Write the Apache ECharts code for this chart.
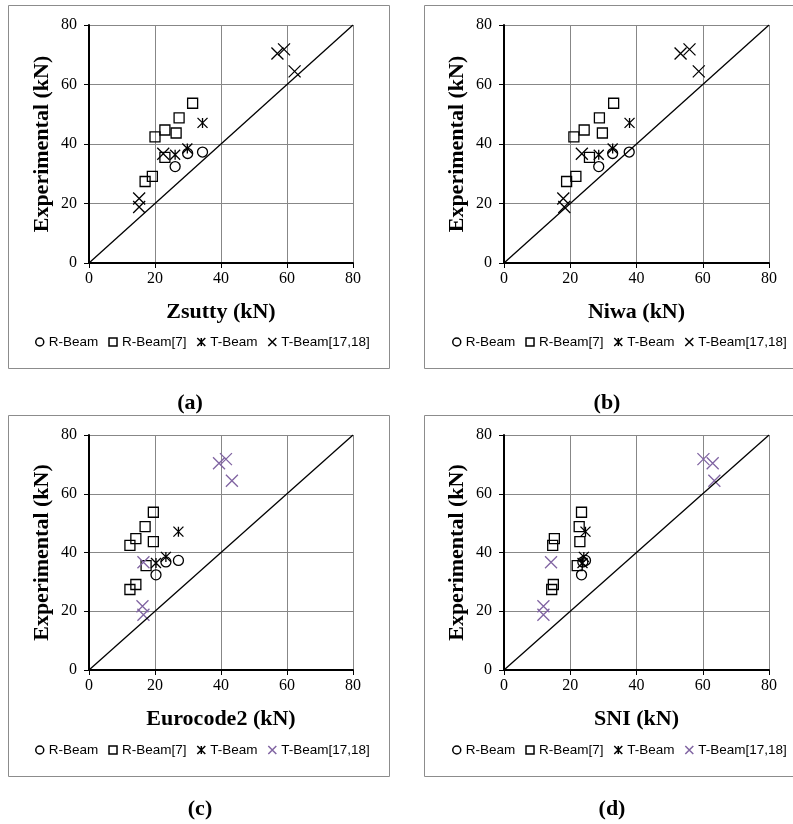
<!DOCTYPE html>
<html>
<head>
<meta charset="utf-8">
<script src="https://cdn.jsdelivr.net/npm/echarts@6/dist/echarts.min.js"></script>
<style>
  html, body { margin: 0; padding: 0; background: #fff; }
  #chart { width: 793px; height: 824px; }
</style>
</head>
<body>
<div id="chart"></div>
<script>
const seriesNames = ['R-Beam', 'R-Beam[7]', 'T-Beam', 'T-Beam[17,18]'];
const xTitles = ['Zsutty (kN)', 'Niwa (kN)', 'Eurocode2 (kN)', 'SNI (kN)'];
const panelLabels = ['(a)', '(b)', '(c)', '(d)'];
const diagonal = [[0, 0], [80, 80]];

// experimental capacity (kN), shared by all panels
const expRBeam = [32.4, 36.8, 37.3];
const expRBeam7 = [27.4, 29.1, 42.4, 44.7, 43.7, 48.8, 53.7, 35.5];
const expTBeam = [36.4, 38.5, 47.1];
const expTBeam1718 = [70.4, 71.8, 64.4, 36.7, 21.7, 18.8];

// predicted capacity (kN) per method
const zsuttyRBeam = [26.1, 29.9, 34.4];
const zsuttyRBeam7 = [17.0, 19.2, 20.0, 23.0, 26.4, 27.3, 31.4, 23.0];
const zsuttyTBeam = [26.1, 29.8, 34.4];
const zsuttyTBeam1718 = [57.1, 59.1, 62.3, 22.5, 15.2, 15.2];

const niwaRBeam = [28.6, 32.8, 37.8];
const niwaRBeam7 = [18.9, 21.7, 21.1, 24.2, 29.7, 28.8, 33.1, 25.8];
const niwaTBeam = [28.6, 32.8, 37.9];
const niwaTBeam1718 = [53.3, 56.0, 58.8, 23.5, 17.9, 18.2];

const ec2RBeam = [20.3, 23.3, 27.1];
const ec2RBeam7 = [12.4, 14.2, 12.4, 14.2, 19.5, 17.0, 19.5, 17.3];
const ec2TBeam = [20.3, 23.3, 27.1];
const ec2TBeam1718 = [39.4, 41.5, 43.3, 16.5, 16.2, 16.5];

const sniRBeam = [23.4, 23.8, 24.6];
const sniRBeam7 = [14.4, 14.9, 14.7, 15.2, 22.9, 22.7, 23.4, 22.1];
const sniTBeam = [23.7, 24.1, 24.6];
const sniTBeam1718 = [63.0, 60.2, 63.5, 14.2, 11.9, 11.9];

const predicted = [
  [zsuttyRBeam, zsuttyRBeam7, zsuttyTBeam, zsuttyTBeam1718],
  [niwaRBeam, niwaRBeam7, niwaTBeam, niwaTBeam1718],
  [ec2RBeam, ec2RBeam7, ec2TBeam, ec2TBeam1718],
  [sniRBeam, sniRBeam7, sniTBeam, sniTBeam1718]
];
const experimental = [expRBeam, expRBeam7, expTBeam, expTBeam1718];

const serif = 'Liberation Serif, Times New Roman, serif';
const sans = 'Liberation Sans, Arial, sans-serif';
const purple = '#8064a2';
const starPath = 'path://M0,0L10,10M10,0L0,10M5,0L5,10';
const crossPath = 'path://M0,0L10,10M10,0L0,10';
const symbols = ['circle', 'rect', starPath, crossPath];
const symbolSizes = [10, 10, 10, 12];

const grids = [
  {left: 89, top: 25, width: 264, height: 238},
  {left: 504, top: 25, width: 265, height: 238},
  {left: 89, top: 435, width: 264, height: 235},
  {left: 504, top: 435, width: 265, height: 235}
];
// panel boxes and sub-figure labels
const boxes = [[8, 5, 381, 363], [424, 5, 381, 363], [8, 415, 381, 361], [424, 415, 381, 361]];
const labelPos = [[190, 403], [607, 403], [200, 809], [612, 809]];
const legendPos = [[35, 335], [452, 335], [35, 743], [452, 743]];

function markColor(panel, s) {
  return (s === 3 && panel >= 2) ? purple : '#000';
}

function axisCommon(i) {
  return {
    type: 'value',
    gridIndex: i,
    min: 0,
    max: 80,
    interval: 20,
    nameLocation: 'middle',
    nameTextStyle: {fontFamily: serif, fontWeight: 'bold', fontSize: 22, color: '#000'},
    axisLine: {show: true, onZero: false, lineStyle: {color: '#000', width: 2}},
    axisTick: {show: true, length: 5, lineStyle: {color: '#000', width: 1}},
    splitLine: {show: true, lineStyle: {color: '#878787', width: 1}}
  };
}

const xAxes = [], yAxes = [], series = [], legends = [], graphics = [];
for (let i = 0; i < 4; i++) {
  xAxes.push(Object.assign(axisCommon(i), {
    name: xTitles[i],
    nameGap: 38,
    axisLabel: {fontFamily: serif, fontSize: 16, color: '#000', margin: 8}
  }));
  yAxes.push(Object.assign(axisCommon(i), {
    name: 'Experimental (kN)',
    nameRotate: 90,
    nameGap: 36,
    axisLabel: {fontFamily: serif, fontSize: 16, color: '#000', margin: 12}
  }));
  series.push({
    type: 'line',
    xAxisIndex: i,
    yAxisIndex: i,
    data: diagonal,
    symbol: 'none',
    silent: true,
    lineStyle: {color: '#000', width: 1.3}
  });
  for (let s = 0; s < 4; s++) {
    const xs = predicted[i][s];
    const ys = experimental[s];
    series.push({
      name: seriesNames[s],
      type: 'scatter',
      xAxisIndex: i,
      yAxisIndex: i,
      symbol: symbols[s],
      symbolSize: symbolSizes[s],
      data: xs.map((x, k) => [x, ys[k]]),
      itemStyle: {color: 'rgba(0,0,0,0)', borderColor: markColor(i, s), borderWidth: 1.3, opacity: 1}
    });
  }
  legends.push({
    left: legendPos[i][0],
    top: legendPos[i][1],
    padding: 0,
    itemWidth: 8,
    itemHeight: 8,
    itemGap: 10,
    textStyle: {fontFamily: sans, fontSize: 13.5, color: '#000'},
    data: seriesNames.map((n, s) => ({
      name: n,
      icon: symbols[s],
      itemStyle: {color: 'rgba(0,0,0,0)', borderColor: markColor(i, s), borderWidth: 1.5}
    }))
  });
  graphics.push({
    type: 'rect',
    shape: {x: boxes[i][0] + 0.5, y: boxes[i][1] + 0.5, width: boxes[i][2], height: boxes[i][3]},
    style: {fill: 'none', stroke: '#8c8c8c', lineWidth: 1},
    silent: true
  });
  graphics.push({
    type: 'text',
    x: labelPos[i][0],
    y: labelPos[i][1],
    style: {
      text: panelLabels[i],
      font: 'bold 22px ' + serif,
      fill: '#000',
      textAlign: 'center',
      textVerticalAlign: 'middle'
    }
  });
}

const chart = echarts.init(document.getElementById('chart'));
chart.setOption({
  animation: false,
  backgroundColor: '#fff',
  grid: grids,
  xAxis: xAxes,
  yAxis: yAxes,
  legend: legends,
  graphic: graphics,
  series: series
});
</script>
</body>
</html>
